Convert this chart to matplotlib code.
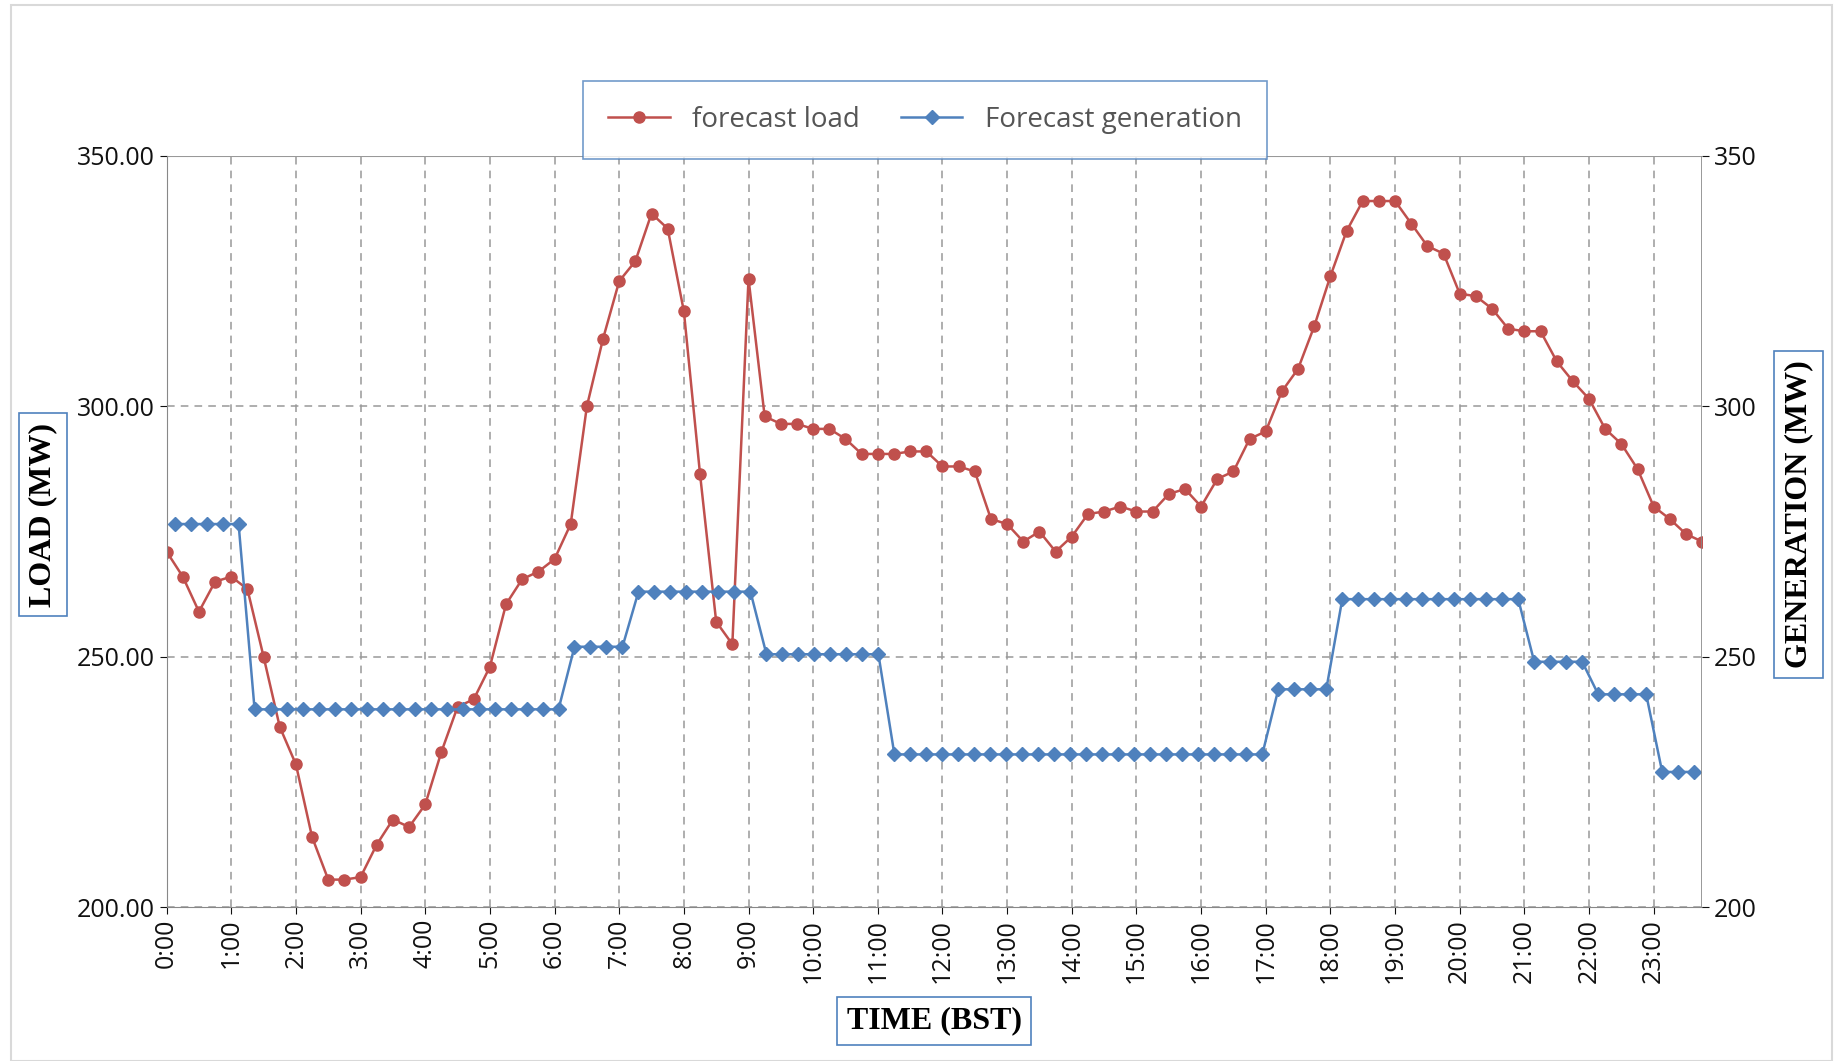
import numpy as np
import matplotlib.pyplot as plt
from matplotlib.patches import Rectangle

load = [271, 266, 259, 265, 266, 263.5, 250, 236, 228.5, 214, 205.5, 205.5,
        206, 212.5, 217.5, 216, 220.5, 231, 240, 241.5, 248, 260.5, 265.5, 267,
        269.5, 276.5, 300, 313.5, 325, 329, 338.5, 335.5, 319, 286.5, 257, 252.5,
        325.5, 298, 296.5, 296.5, 295.5, 295.5, 293.5, 290.5, 290.5, 290.5, 291, 291,
        288, 288, 287, 277.5, 276.5, 273, 275, 271, 274, 278.5, 279, 280,
        279, 279, 282.5, 283.5, 280, 285.5, 287, 293.5, 295, 303, 307.5, 316,
        326, 335, 341, 341, 341, 336.5, 332, 330.5, 322.5, 322, 319.5, 315.5,
        315, 315, 309, 305, 301.5, 295.5, 292.5, 287.5, 280, 277.5, 274.5, 273]

gen = ([276.5] * 5 + [239.5] * 20 + [252] * 4 + [263] * 8 + [250.5] * 8 +
       [230.5] * 24 + [243.5] * 4 + [261.5] * 12 + [249] * 4 + [242.5] * 4 + [227] * 3)

hours = [f"{h}:00" for h in range(24)]

red = "#C0504D"
blue = "#4F81BD"
plt.rcParams['font.family'] = ['Open Sans', 'DejaVu Sans']

fig = plt.figure(figsize=(18.39, 10.61), dpi=100)
pos = [0.0906, 0.145, 0.835, 0.708]
ax = fig.add_axes(pos)
ax2 = fig.add_axes(pos, frameon=False)

x = np.arange(len(load))
l1, = ax.plot(x, load, color=red, marker='o', ms=8, lw=1.8, label='forecast load')
ax.set_xlim(0, len(load) - 1)
ax.set_ylim(200, 350)
ax.set_yticks([200, 250, 300, 350])
ax.set_yticklabels([f"{v:.2f}" for v in [200, 250, 300, 350]], fontsize=18)
ax.set_xticks(np.arange(0, len(load), 4))
ax.set_xticklabels(hours, rotation=90, fontsize=18)
ax.grid(True, ls=(0, (5, 4)), color='#999999', lw=1.1)
ax.axhline(350, color='#999999', lw=1.5)
for s in ['top', 'right']:
    ax.spines[s].set_visible(False)
ax.spines['left'].set_color('#888888')
ax.spines['bottom'].set_color('#888888')
ax.tick_params(colors='#111111', length=5)

xg = np.arange(len(gen)) + 0.5
l2, = ax2.plot(xg, gen, color=blue, marker='D', ms=7, lw=1.8, label='Forecast generation')
ax2.set_xlim(0, len(gen))
ax2.set_ylim(200, 350)
ax2.set_xticks([])
ax2.yaxis.tick_right()
ax2.set_yticks([200, 250, 300, 350])
ax2.tick_params(axis='y', labelsize=18, colors='#111111', length=5)
ax2.axvline(len(gen), color='#888888', lw=1.2)

leg = fig.legend(handles=[l1, l2], loc='center', bbox_to_anchor=(0.503, 0.887),
                 ncol=2, fontsize=20, frameon=True, fancybox=False,
                 borderpad=0.9, handlelength=2.2, columnspacing=1.5)
leg.get_frame().set_edgecolor(blue)
leg.get_frame().set_linewidth(1.2)
for t in leg.get_texts():
    t.set_color('#555555')

box = dict(boxstyle='square,pad=0.3', fc='white', ec=blue, lw=1.2)
fig.text(0.0235, 0.515, 'LOAD (MW)', rotation=90, ha='center', va='center',
         family='Liberation Serif', weight='bold', fontsize=23, bbox=box)
fig.text(0.978, 0.515, 'GENERATION (MW)', rotation=90, ha='center', va='center',
         family='Liberation Serif', weight='bold', fontsize=23, bbox=box)
fig.text(0.508, 0.038, 'TIME (BST)', ha='center', va='center',
         family='Liberation Serif', weight='bold', fontsize=23, bbox=box)

fig.patches.append(Rectangle((0.006, 0.0), 0.99, 0.995, transform=fig.transFigure,
                             fill=False, ec='#d9d9d9', lw=1.5))

fig.savefig('out.png', dpi=100)
